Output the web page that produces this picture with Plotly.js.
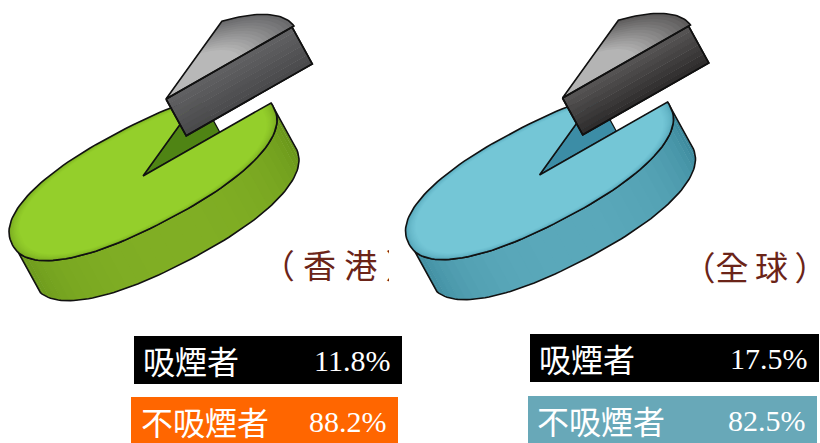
<!DOCTYPE html>
<html><head><meta charset="utf-8">
<script src="https://cdn.plot.ly/plotly-3.0.1.min.js"></script>
<style>html,body{margin:0;padding:0;background:#fff}#c{width:820px;height:443px}</style></head>
<body><div id="c"></div>
<script>
// ---- data ----
const regions = ['香港', '全球'];
const regionTitles = ['（\u2005香\u2005港\u2005）', '（全\u2009球\u2009）'];
const smokerLabel = '吸煙者';
const nonSmokerLabel = '不吸煙者';
const smokers = [11.8, 17.5];
const nonSmokers = [88.2, 82.5];
// the illustration draws the same cut-out in both pies (angles in the disc's own plane)
const cutStartDeg = [-5, -5];
const cutEndDeg = [-58, -58];

// ---- styling ----
const palettes = [
  {rim:'#74a31f', top:'#94cf2b', wall:'#4f8414', side:'#80ae24', sideDark:'#5f8c16',
   sliceHi:'#b8b8b8', sliceLo:'#6a6a6c', sliceSide:'#606062', sliceSideDark:'#4a4a4c'},
  {rim:'#4f9fb3', top:'#74c6d6', wall:'#3c8da6', side:'#5aa8ba', sideDark:'#2f7c90',
   sliceHi:'#b4b4b4', sliceLo:'#5e5c5c', sliceSide:'#555353', sliceSideDark:'#2f2d2d'}
];
const pieOrigins = [[143,176],[539.5,175]];
const A = [131,-68], B = [22,45], D = [22,40], S = [23,-77], E = 0.88;
const titleColor = '#6b2418';

function hex(c){return [1,3,5].map(i=>parseInt(c.substr(i,2),16));}
function mix(a,b,f){const x=hex(a),y=hex(b);return 'rgb('+x.map((v,i)=>Math.round(v+(y[i]-v)*f)).join(',')+')';}
const rad = d=>d*Math.PI/180;
const sp = v=>Math.sign(v)*Math.pow(Math.abs(v),E);
function ell(o,t,k=1){const c=sp(Math.cos(rad(t))),s=sp(Math.sin(rad(t)));
  return [o[0]+k*(A[0]*c+B[0]*s),o[1]+k*(A[1]*c+B[1]*s)];}
function arc(o,t0,t1,k=1,n=80){const r=[];for(let i=0;i<=n;i++)r.push(ell(o,t0+(t1-t0)*i/n,k));return r;}
const shift=(p,d,f=1)=>[p[0]+d[0]*f,p[1]+d[1]*f];
const lerp=(p,q,f)=>[p[0]+(q[0]-p[0])*f,p[1]+(q[1]-p[1])*f];
function poly(pts,fill,line,w){
  const closed=pts.concat([pts[0]]);
  return {x:closed.map(p=>p[0]),y:closed.map(p=>p[1]),type:'scatter',mode:'lines',
    fill:fill?'toself':'none',fillcolor:fill||'rgba(0,0,0,0)',
    line:{color:line||'rgba(0,0,0,0)',width:line?(w||1.6):0,shape:'linear'},
    hoverinfo:'skip',showlegend:false};
}
const traces=[];
regions.forEach((name,r)=>{
  const o=pieOrigins[r],c=palettes[r],t0=cutStartDeg[r],t1=cutEndDeg[r]+360;
  const corner=ell(o,t0),far=ell(o,t1);
  const q=lerp(o,corner,0.6);
  traces.push(poly([o,far,shift(q,D,-0.3),q],c.wall,'#111',1.2));
  // side face in strips
  const tEnd=170,n=34;
  for(let i=0;i<n;i++){
    const a=t0+(tEnd-t0)*i/n,b=t0+(tEnd-t0)*(i+1)/n+0.6,f=(i+.5)/n;
    const dark=Math.pow(Math.abs(f-.55)/.55,2.2);
    const strip=arc(o,a,b,1,3);
    traces.push(poly(strip.concat(strip.slice().reverse().map(p=>shift(p,D))),mix(c.side,c.sideDark,dark)));
  }
  const s=arc(o,t0,tEnd);
  traces.push(poly(s.concat(s.slice().reverse().map(p=>shift(p,D))),null,'#111',1.6));
  // top of the disc with a soft rim
  const steps=10;
  for(let i=0;i<steps;i++){
    const k=1-0.075*i/(steps-1);
    traces.push(poly([o].concat(arc(o,t0,t1,k,120)),mix(c.rim,c.top,Math.sqrt(i/(steps-1))),null));
  }
  traces.push(poly([o].concat(arc(o,t0,t1,1,120)),null,'#111',1.6));
  // lifted slice
  const so=shift(o,S);
  const sa=-5,sb=-58;
  const p0=so,p1=ell(so,sa,.985);
  const face=[p0,p1,shift(p1,D,.92),shift(p0,D,.92)];
  const bands=8;
  for(let i=0;i<bands;i++){
    const f0=.92*i/bands,f1=.92*(i+1)/bands+.01;
    traces.push(poly([shift(p0,D,f0),shift(p1,D,f0),shift(p1,D,f1),shift(p0,D,f1)],mix(c.sliceSide,c.sliceSideDark,i/(bands-1))));
  }
  traces.push(poly(face,null,'#111',1.6));
  const topSteps=14;
  for(let i=0;i<topSteps;i++){
    const k=1.0-0.42*i/(topSteps-1);
    const pts=[so].concat(arc(so,sa,sb,k,30));
    traces.push(poly(pts,mix(c.sliceLo,c.sliceHi,i/(topSteps-1)),null));
  }
  traces.push(poly([so].concat(arc(so,sa,sb,1,30)),null,'#111',1.6));
  traces.push(poly(face,null,'#111',1.6));
});
// region captions as text marks, so the clipped bracket can be masked by a shape
traces.push({type:'scatter',mode:'text',x:[340,755],y:[270,272],text:regionTitles,cliponaxis:false,
  textposition:'middle center',textfont:{family:"'Noto Sans CJK TC'",size:33,color:titleColor},
  hoverinfo:'skip',showlegend:false});

const serif="'Liberation Serif','Noto Sans CJK TC'";
const rows=[
 {x0:[134,530],x1:[402,819],y0:[336,334],y1:[384,382],fill:['#000000','#000000'],label:smokerLabel,vals:smokers,lx:[141,537],vx:[392,810],ty:[360,358]},
 {x0:[131,528],x1:[398,817],y0:[397,396],y1:[443,443],fill:['#ff6600','#68a8b8'],label:nonSmokerLabel,vals:nonSmokers,lx:[139,535],vx:[389,808],ty:[421,420]}
];
const shapes=[],annotations=[];
rows.forEach(row=>regions.forEach((_,r)=>{
  shapes.push({type:'rect',xref:'x',yref:'y',x0:row.x0[r],x1:row.x1[r],y0:row.y0[r],y1:row.y1[r],
    fillcolor:row.fill[r],line:{width:0},layer:'below'});
  annotations.push({x:row.lx[r],y:row.ty[r],xref:'x',yref:'y',xanchor:'left',yanchor:'middle',showarrow:false,
    text:row.label,font:{family:"'Noto Sans CJK TC'",size:32,color:'#fff'}});
  annotations.push({x:row.vx[r],y:row.ty[r],xref:'x',yref:'y',xanchor:'right',yanchor:'middle',showarrow:false,
    text:row.vals[r].toFixed(1)+'%',font:{family:serif,size:30,color:'#fff'}});
}));
// the reference crops the Hong Kong caption's closing bracket
shapes.push({type:'rect',xref:'x',yref:'y',x0:389,x1:405,y0:240,y1:300,fillcolor:'#fff',line:{width:0},layer:'above'});

Plotly.newPlot('c',traces,{
  width:820,height:443,margin:{l:0,r:0,t:0,b:0},paper_bgcolor:'#fff',plot_bgcolor:'#fff',showlegend:false,
  xaxis:{range:[0,820],visible:false,fixedrange:true},
  yaxis:{range:[443,0],visible:false,fixedrange:true},
  shapes,annotations
},{displayModeBar:false,staticPlot:true});
</script></body></html>
